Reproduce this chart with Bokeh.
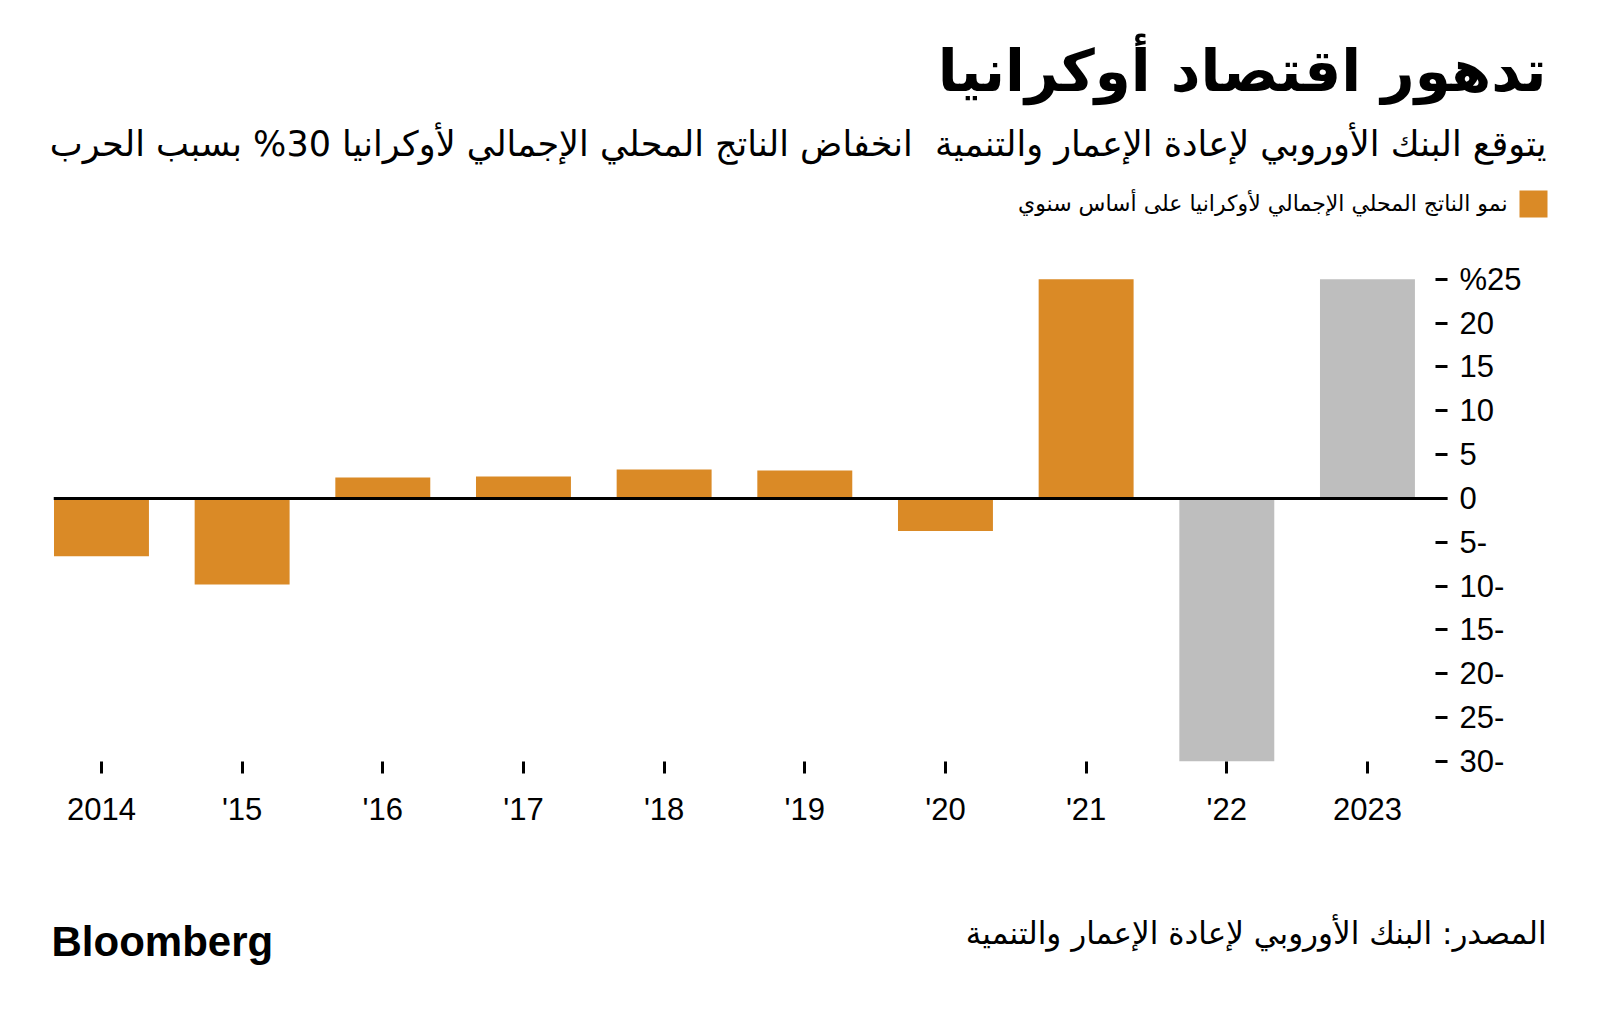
from bokeh.plotting import figure
from bokeh.models import Span, FixedTicker, Range1d
from bokeh.layouts import column, row
from bokeh.core.properties import value
from bokeh.embed import file_html
from bokeh.resources import INLINE

# ---- data ----
years = [2014, 2015, 2016, 2017, 2018, 2019, 2020, 2021, 2022, 2023]
year_labels = ["2014", "'15", "'16", "'17", "'18", "'19", "'20", "'21", "'22", "2023"]
gdp_growth = [-6.6, -9.8, 2.4, 2.5, 3.3, 3.2, -3.7, 25.0, -30.0, 25.0]
is_forecast = [False, False, False, False, False, False, False, False, True, True]
y_ticks = [-30, -25, -20, -15, -10, -5, 0, 5, 10, 15, 20, 25]
y_tick_labels = ["30-", "25-", "20-", "15-", "10-", "5-", "0", "5", "10", "15", "20", "%25"]

title_text = "تدهور اقتصاد أوكرانيا"
subtitle_text = "يتوقع البنك الأوروبي لإعادة الإعمار والتنمية\u00a0 انخفاض الناتج المحلي الإجمالي لأوكرانيا 30% بسبب الحرب"
legend_text = "نمو الناتج المحلي الإجمالي لأوكرانيا على أساس سنوي"
source_text = "المصدر: البنك الأوروبي لإعادة الإعمار والتنمية"
brand_text = "Bloomberg"

ORANGE = "#DA8A26"
GREY = "#BEBEBE"
AR_FONT = "DejaVu Sans"
NUM_FONT = "Liberation Sans"

W = 1600
HEAD_H, MAIN_H, FOOT_H = 250, 600, 170
FL, FR = 53, 1447            # frame left/right on the canvas
FT, FB = 270, 761            # frame top/bottom on the canvas


def blank_fig(height, y0):
    f = figure(width=W, height=height, output_backend="svg", toolbar_location=None,
               x_range=Range1d(0, W), y_range=Range1d(y0 + height, y0),
               x_axis_type=None, y_axis_type=None,
               min_border_left=0, min_border_right=0, min_border_top=0, min_border_bottom=0)
    f.outline_line_color = None
    f.xgrid.visible = False
    f.ygrid.visible = False
    f.background_fill_color = "white"
    f.border_fill_color = "white"
    return f


def put_text(f, txt, x, y, size, font, align="right", style="normal"):
    f.text(x=[x], y=[y], text=[txt], text_font=value(font), text_font_size=value(size),
           text_font_style=style, text_align=align, text_baseline="middle",
           text_color="black")


# ---- header ----
head = blank_fig(HEAD_H, 0)
put_text(head, title_text, 1546, 70, "58px", AR_FONT, style="bold")
put_text(head, subtitle_text, 1546, 143, "35px", AR_FONT)
put_text(head, legend_text, 1507, 203, "22px", AR_FONT)
head.quad(left=[1519], right=[1547], top=[190], bottom=[217], fill_color=ORANGE, line_color=None)

# ---- main chart ----
xs = list(range(len(years)))
colors = [GREY if f else ORANGE for f in is_forecast]

p = figure(width=W, height=MAIN_H, output_backend="svg", toolbar_location=None,
           y_axis_location="right",
           x_range=Range1d(-0.341, 9.569), y_range=Range1d(-30, 26),
           min_border_left=FL, min_border_right=W - FR,
           min_border_top=FT - HEAD_H, min_border_bottom=HEAD_H + MAIN_H - FB)
p.outline_line_color = None
p.xgrid.visible = False
p.ygrid.visible = False
p.background_fill_color = "white"
p.border_fill_color = "white"

p.vbar(x=xs, top=gdp_growth, bottom=0, width=0.675, fill_color=colors, line_color=None)
p.add_layout(Span(location=0, dimension="width", line_color="black", line_width=3))

xa = p.xaxis[0]
xa.ticker = FixedTicker(ticks=xs)
xa.major_label_overrides = {i: lab for i, lab in zip(xs, year_labels)}
xa.axis_line_color = None
xa.major_tick_in = 0
xa.major_tick_out = 12
xa.major_tick_line_width = 3
xa.major_tick_line_color = "black"
xa.minor_tick_line_color = None
xa.major_label_standoff = 18
xa.major_label_text_font = NUM_FONT
xa.major_label_text_font_size = "31px"
xa.major_label_text_color = "black"

ya = p.yaxis[0]
ya.ticker = FixedTicker(ticks=y_ticks)
ya.major_label_overrides = {t: lab for t, lab in zip(y_ticks, y_tick_labels)}
ya.axis_line_color = None
ya.major_tick_in = 12
ya.major_tick_out = 0
ya.major_tick_line_width = 3
ya.major_tick_line_color = "black"
ya.minor_tick_line_color = None
ya.major_label_standoff = 12
ya.major_label_text_font = NUM_FONT
ya.major_label_text_font_size = "31px"
ya.major_label_text_color = "black"

# ---- footer ----
foot = blank_fig(FOOT_H, HEAD_H + MAIN_H)
put_text(foot, source_text, 1546, 932, "31px", AR_FONT)
put_text(foot, brand_text, 51, 941, "42px", NUM_FONT, align="left", style="bold")

layout = column(row(head), row(p), row(foot), spacing=0)
open("out.html", "w").write(file_html(layout, INLINE))
